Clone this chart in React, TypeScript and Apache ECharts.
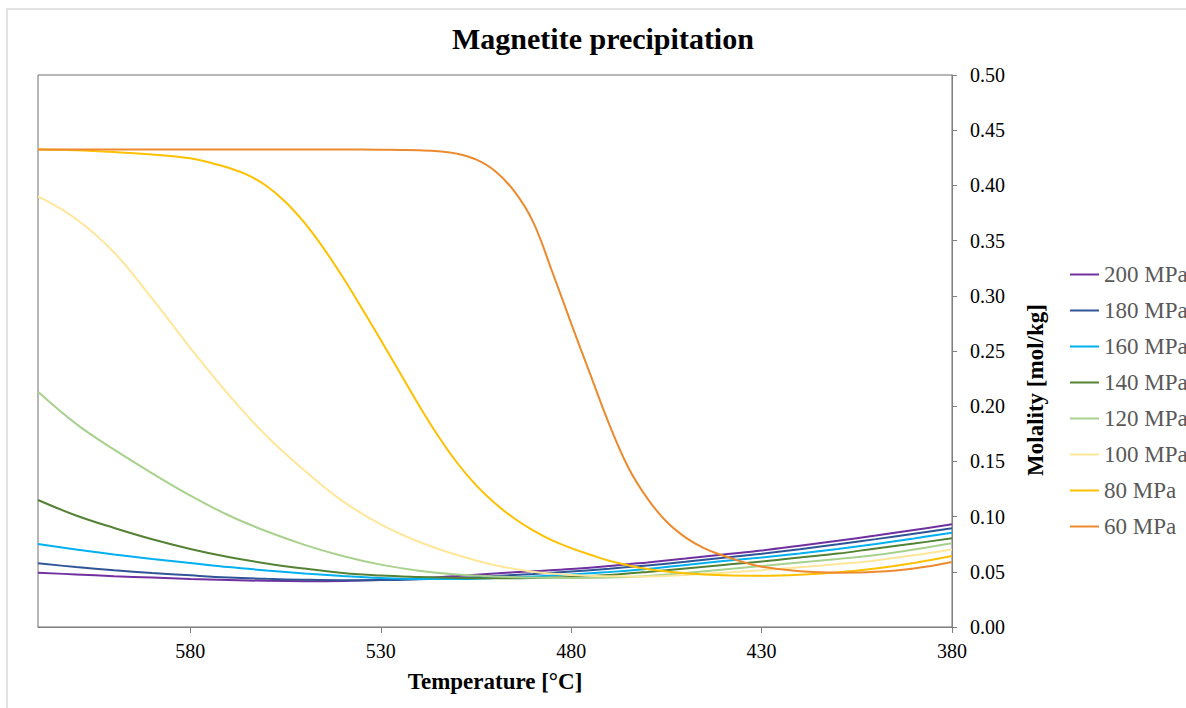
import React, { useEffect, useRef } from 'react';
import * as echarts from 'echarts';

// Temperatures (°C) used for most pressure curves
const temps = [620, 610, 600, 590, 580, 570, 560, 550, 540, 530, 520, 510, 500, 490, 480, 470, 460, 450, 440, 430, 420, 410, 400, 390, 380];

// Molality [mol/kg] per pressure
const m200 = [0.0492, 0.0476, 0.046, 0.0448, 0.0435, 0.0426, 0.0418, 0.0415, 0.0417, 0.0426, 0.0442, 0.0462, 0.0485, 0.0505, 0.0525, 0.0552, 0.0585, 0.062, 0.0657, 0.0693, 0.0736, 0.0781, 0.0829, 0.0879, 0.093];
const m180 = [0.0577, 0.0543, 0.0514, 0.0489, 0.0468, 0.0449, 0.0436, 0.0428, 0.0424, 0.0425, 0.0432, 0.0444, 0.0462, 0.0481, 0.0503, 0.0528, 0.0558, 0.059, 0.0627, 0.0664, 0.0705, 0.0749, 0.0796, 0.0845, 0.0894];
const m160 = [0.0752, 0.0702, 0.0657, 0.0616, 0.058, 0.0543, 0.0512, 0.0485, 0.0462, 0.0444, 0.0435, 0.0435, 0.0444, 0.0457, 0.0476, 0.0498, 0.0525, 0.0562, 0.0598, 0.063, 0.0666, 0.0707, 0.0752, 0.0802, 0.0854];
const m140 = [0.115, 0.101, 0.0897, 0.0795, 0.0707, 0.0634, 0.0576, 0.0529, 0.0489, 0.0466, 0.0453, 0.0444, 0.0441, 0.0444, 0.0453, 0.0471, 0.0498, 0.053, 0.0562, 0.0593, 0.063, 0.0665, 0.0712, 0.0756, 0.0803];
const m120 = [0.213, 0.184, 0.1606, 0.1392, 0.1191, 0.1012, 0.0867, 0.0744, 0.0643, 0.0565, 0.051, 0.0476, 0.0457, 0.0448, 0.0444, 0.0448, 0.0462, 0.0489, 0.0521, 0.0553, 0.0584, 0.0616, 0.0652, 0.0702, 0.0758];
const m100 = [0.39, 0.3696, 0.3392, 0.2974, 0.2527, 0.2106, 0.173, 0.1418, 0.114, 0.093, 0.0772, 0.0652, 0.056, 0.05, 0.047, 0.046, 0.0458, 0.0472, 0.0492, 0.0515, 0.0542, 0.057, 0.0603, 0.065, 0.0703];

// 80 MPa, read at a finer step through its drop
const temps80 = [620, 610, 600, 590, 580, 575, 570, 565, 560, 555, 550, 545, 540, 535, 530, 525, 520, 515, 510, 505, 500, 495, 490, 485, 480, 475, 470, 460, 450, 440, 430, 420, 410, 400, 390, 380];
const m80 = [0.4325, 0.4318, 0.4302, 0.428, 0.4245, 0.4207, 0.416, 0.4095, 0.3995, 0.385, 0.366, 0.343, 0.317, 0.289, 0.26, 0.2305, 0.201, 0.1735, 0.149, 0.1285, 0.112, 0.0985, 0.0875, 0.0785, 0.0715, 0.0655, 0.06, 0.0525, 0.0487, 0.0468, 0.0464, 0.0473, 0.0495, 0.053, 0.058, 0.0643];

// 60 MPa, read at a finer step through its steep drop
const temps60 = [620, 600, 580, 560, 540, 530, 525, 520, 515, 510, 505, 500, 495, 490, 485, 480, 475, 470, 465, 460, 455, 450, 445, 440, 435, 430, 420, 410, 400, 390, 380];
const m60 = [0.4325, 0.4325, 0.4325, 0.4325, 0.4325, 0.4323, 0.4321, 0.4318, 0.431, 0.4288, 0.4235, 0.413, 0.395, 0.367, 0.322, 0.275, 0.229, 0.1835, 0.1445, 0.1165, 0.0955, 0.0812, 0.0712, 0.0645, 0.059, 0.0546, 0.0505, 0.0492, 0.05, 0.053, 0.0589];

const seriesNames = ['200 MPa', '180 MPa', '160 MPa', '140 MPa', '120 MPa', '100 MPa', '80 MPa', '60 MPa'];
const seriesValues = [m200, m180, m160, m140, m120, m100, m80, m60];
const seriesTemps = [temps, temps, temps, temps, temps, temps, temps80, temps60];
const xTicks = [580, 530, 480, 430, 380];

const seriesColors = ['#7030A0', '#2F5597', '#00B0F0', '#548235', '#A9D18E', '#FFE699', '#FFC000', '#EE8A2E'];

export default function App() {
  const ref = useRef<HTMLDivElement>(null);

  useEffect(() => {
    if (!ref.current) return;
    const chart = echarts.init(ref.current, null, { renderer: 'svg' });
    const font = "'Liberation Serif', 'Times New Roman', serif";

    const series = seriesNames.map((name, i) => ({
      name,
      type: 'line',
      data: seriesTemps[i].map((t, j) => [t, seriesValues[i][j]]),
      smooth: 0.4,
      symbol: 'none',
      lineStyle: { color: seriesColors[i], width: 2 },
      itemStyle: { color: seriesColors[i] },
    }));

    chart.setOption({
      animation: false,
      backgroundColor: '#ffffff',
      title: {
        text: 'Magnetite precipitation',
        left: 447,
        top: 18,
        textStyle: { fontFamily: font, fontSize: 30, fontWeight: 'bold', color: '#000000' },
      },
      graphic: [
        {
          type: 'rect',
          silent: true,
          z: -10,
          shape: { x: 7, y: 9, width: 1250, height: 760 },
          style: { fill: 'none', stroke: '#d9d9d9', lineWidth: 1.5 },
        },
      ],
      legend: {
        orient: 'vertical',
        left: 1070,
        top: 263,
        padding: 0,
        itemGap: 13,
        itemWidth: 29,
        itemHeight: 2,
        icon: 'rect',
        data: seriesNames,
        textStyle: { fontFamily: font, fontSize: 23, color: '#595959', lineHeight: 23 },
      },
      grid: {
        left: 38,
        right: 234,
        top: 75,
        bottom: 81,
        show: true,
        borderColor: '#6e6e6e',
        borderWidth: 1,
        containLabel: false,
      },
      xAxis: {
        type: 'value',
        min: 380,
        max: 620,
        inverse: true,
        name: 'Temperature [°C]',
        nameLocation: 'middle',
        nameGap: 43,
        nameTextStyle: { fontFamily: font, fontSize: 23, fontWeight: 'bold', color: '#000000' },
        axisLine: { show: true, lineStyle: { color: '#808080', width: 1 } },
        axisTick: { show: true, length: 6, customValues: xTicks, lineStyle: { color: '#808080' } },
        axisLabel: { customValues: xTicks, fontFamily: font, fontSize: 20, color: '#000000', margin: 14 },
        splitLine: { show: false },
      },
      yAxis: {
        type: 'value',
        position: 'right',
        min: 0,
        max: 0.5,
        interval: 0.05,
        name: 'Molality [mol/kg]',
        nameLocation: 'middle',
        nameGap: 72,
        nameTextStyle: {
          fontFamily: font,
          fontSize: 23,
          fontWeight: 'bold',
          color: '#000000',
          padding: [0, 78, 0, 0],
        },
        axisLine: { show: true, lineStyle: { color: '#808080', width: 1 } },
        axisTick: { show: true, length: 5, lineStyle: { color: '#808080' } },
        axisLabel: {
          fontFamily: font,
          fontSize: 20,
          color: '#000000',
          margin: 18,
          formatter: (v: number) => v.toFixed(2),
        },
        splitLine: { show: false },
      },
      series,
    });

    return () => chart.dispose();
  }, []);

  return (
    <div
      ref={ref}
      style={{ position: 'absolute', left: 0, top: 0, width: 1186, height: 708, background: '#ffffff' }}
    />
  );
}
